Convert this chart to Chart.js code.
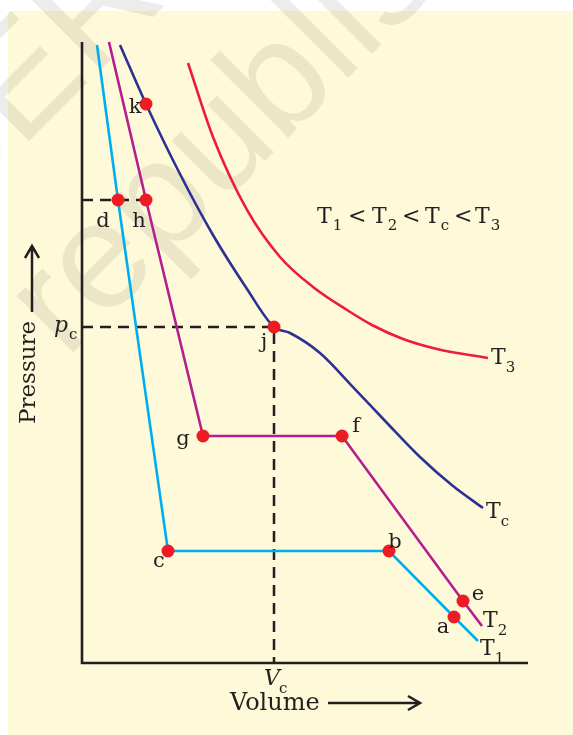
<!DOCTYPE html>
<html>
<head>
<meta charset="utf-8">
<script src="https://cdn.jsdelivr.net/npm/chart.js@4.4.1/dist/chart.umd.min.js"></script>
<style>
html,body{margin:0;padding:0;background:#ffffff;width:573px;height:735px;overflow:hidden;position:relative;}
#bg{position:absolute;left:8px;top:11px;width:565px;height:724px;background:#fef9d8;}
#wrap{position:absolute;left:0;top:0;width:573px;height:735px;}
</style>
</head>
<body>
<div id="bg"></div>
<div id="wrap"><canvas id="c" width="573" height="735"></canvas></div>
<script>
// ---- data (Volume / Pressure, arbitrary units 0..100) ----
const T1_V = [3.36, 8.07, 19.28, 68.83, 83.41, 88.79];
const T1_P = [99.52, 74.56, 18.04, 18.04, 7.41, 3.54];
const T2_V = [6.05, 14.35, 27.13, 58.30, 85.43, 89.69];
const T2_P = [100.0, 74.56, 36.55, 36.55, 9.98, 5.96];
const TC_V = [8.52, 14.35, 21.97, 29.37, 37.00, 43.05, 46.64, 53.36, 60.76, 68.39, 75.78, 83.18, 89.91];
const TC_P = [99.52, 90.02, 78.74, 68.92, 60.23, 54.11, 53.14, 49.92, 44.44, 38.65, 33.17, 28.50, 24.96];
const T3_V = [23.77, 29.37, 37.00, 44.39, 51.79, 59.42, 65.02, 71.97, 79.60, 91.03];
const T3_P = [96.62, 84.70, 72.95, 65.38, 60.55, 56.84, 54.43, 52.17, 50.56, 49.11];
const POINT_NAMES = ['k', 'd', 'h', 'j', 'g', 'f', 'c', 'b', 'e', 'a'];
const POINT_V = [14.35, 8.07, 14.35, 43.05, 27.13, 58.30, 19.28, 68.83, 85.43, 83.41];
const POINT_P = [90.02, 74.56, 74.56, 54.11, 36.55, 36.55, 18.04, 18.04, 9.98, 7.41];
const CURVE_NAMES = ['T', 'T', 'T', 'T'];
const CURVE_SUBS = ['1', '2', 'c', '3'];
const AXIS_V = [0, 0, 100];
const AXIS_P = [100, 0, 0];
const X_LABEL = 'Volume';
const Y_LABEL = 'Pressure';
const PC_LABEL = ['p', 'c'];
const VC_LABEL = ['V', 'c'];
const RELATION_T = [['T', '1'], ['T', '2'], ['T', 'c'], ['T', '3']];
const RELATION_SIGN = '<';
const WATERMARK = ['NCERT', 'republished'];

const zip = (xs, ys) => xs.map((x, i) => ({x: x, y: ys[i]}));
const J = POINT_NAMES.indexOf('j');
const H = POINT_NAMES.indexOf('h');

// ---- styles ----
const INK = '#231f20';
const SERIF = '"DejaVu Serif", "Liberation Serif", serif';
const labelOffsets = {
  k: [-11, 9], d: [-15, 27], h: [-7, 27], j: [-10, 21], g: [-20, 9],
  f: [14, -4], c: [-9, 16], b: [6, -3], e: [15, -1], a: [-11, 16]
};
const curveOffsets = [[2, 14], [1, 1], [3, 10], [3, 6]];
const relTX = [317, 372, 425, 475];
const relSignX = [348, 402, 454];

const watermarkPlugin = {
  id: 'watermark',
  beforeDraw(chart) {
    const ctx = chart.ctx;
    ctx.save();
    ctx.fillStyle = 'rgba(40,40,30,0.09)';
    ctx.font = '152px "Liberation Sans", Arial, sans-serif';
    ctx.textBaseline = 'alphabetic';
    ctx.textAlign = 'left';
    [[-135, 305], [66, 360]].forEach((b, i) => {
      ctx.save();
      ctx.translate(b[0], b[1]);
      ctx.rotate(-Math.PI / 4);
      ctx.fillText(WATERMARK[i], 0, 0);
      ctx.restore();
    });
    ctx.restore();
  }
};

const textPlugin = {
  id: 'texts',
  afterDatasetsDraw(chart) {
    const ctx = chart.ctx;
    const xs = chart.scales.x, ys = chart.scales.y;
    ctx.save();
    ctx.fillStyle = INK;
    ctx.textBaseline = 'alphabetic';
    ctx.font = '21px ' + SERIF;
    ctx.textAlign = 'center';
    POINT_NAMES.forEach((n, i) => {
      const o = labelOffsets[n];
      ctx.fillText(n, xs.getPixelForValue(POINT_V[i]) + o[0], ys.getPixelForValue(POINT_P[i]) + o[1]);
    });
    const ends = [[T1_V, T1_P], [T2_V, T2_P], [TC_V, TC_P], [T3_V, T3_P]];
    ctx.textAlign = 'left';
    ends.forEach((e, i) => {
      const px = xs.getPixelForValue(e[0][e[0].length - 1]) + curveOffsets[i][0];
      const py = ys.getPixelForValue(e[1][e[1].length - 1]) + curveOffsets[i][1];
      ctx.font = '22px ' + SERIF;
      ctx.fillText(CURVE_NAMES[i], px, py);
      const w = ctx.measureText(CURVE_NAMES[i]).width;
      ctx.font = '15px ' + SERIF;
      ctx.fillText(CURVE_SUBS[i], px + w, py + 8);
    });
    // relation text
    RELATION_T.forEach((r, i) => {
      ctx.font = '22px ' + SERIF;
      ctx.fillText(r[0], relTX[i], 223);
      const w = ctx.measureText(r[0]).width;
      ctx.font = '15px ' + SERIF;
      ctx.fillText(r[1], relTX[i] + w + 1, 230);
    });
    ctx.font = '22px ' + SERIF;
    relSignX.forEach((x) => ctx.fillText(RELATION_SIGN, x, 223));
    // p_c
    const pcY = ys.getPixelForValue(POINT_P[J]);
    ctx.font = 'italic 22px ' + SERIF;
    ctx.fillText(PC_LABEL[0], 54, pcY + 5);
    ctx.font = '15px ' + SERIF;
    ctx.fillText(PC_LABEL[1], 69, pcY + 12);
    // V_c
    const vcX = xs.getPixelForValue(POINT_V[J]);
    ctx.font = 'italic 22px ' + SERIF;
    ctx.fillText(VC_LABEL[0], vcX - 10, 685);
    ctx.font = '15px ' + SERIF;
    ctx.fillText(VC_LABEL[1], vcX + 5, 693);
    // Volume label + arrow
    ctx.font = '24px ' + SERIF;
    ctx.fillText(X_LABEL, 230, 710);
    ctx.strokeStyle = INK;
    ctx.lineWidth = 2.5;
    ctx.beginPath();
    ctx.moveTo(328, 703); ctx.lineTo(420, 703);
    ctx.moveTo(408, 696); ctx.lineTo(420, 703); ctx.lineTo(408, 710);
    ctx.stroke();
    // Pressure label + arrow
    ctx.save();
    ctx.translate(35, 424);
    ctx.rotate(-Math.PI / 2);
    ctx.font = '23px ' + SERIF;
    ctx.fillText(Y_LABEL, 0, 0);
    ctx.restore();
    ctx.beginPath();
    ctx.moveTo(32, 312); ctx.lineTo(32, 246);
    ctx.moveTo(25, 258); ctx.lineTo(32, 246); ctx.lineTo(39, 258);
    ctx.stroke();
    ctx.restore();
  }
};

const lineDs = (v, p, color, smooth) => ({
  data: zip(v, p), showLine: true, borderColor: color, borderWidth: 2.6,
  pointRadius: 0, fill: false, clip: false,
  tension: smooth ? 0.4 : 0, cubicInterpolationMode: smooth ? 'monotone' : 'default'
});

new Chart(document.getElementById('c'), {
  type: 'scatter',
  data: {
    datasets: [
      { data: zip(POINT_V, POINT_P), pointRadius: 6.5, pointBackgroundColor: '#ed1c24',
        pointBorderWidth: 0, showLine: false, clip: false },
      lineDs(T1_V, T1_P, '#00aeef', false),
      lineDs(T2_V, T2_P, '#b41e8e', false),
      lineDs(TC_V, TC_P, '#2e3192', true),
      lineDs(T3_V, T3_P, '#ec1c3a', true),
      { data: [{x: 0, y: POINT_P[J]}, {x: POINT_V[J], y: POINT_P[J]}, {x: POINT_V[J], y: 0}],
        showLine: true, borderColor: INK, borderWidth: 2.5, borderDash: [11, 7], pointRadius: 0, clip: false },
      { data: [{x: 0, y: POINT_P[H]}, {x: POINT_V[H], y: POINT_P[H]}],
        showLine: true, borderColor: INK, borderWidth: 2.5, borderDash: [11, 7], pointRadius: 0, clip: false },
      { data: zip(AXIS_V, AXIS_P), showLine: true, borderColor: INK, borderWidth: 2.6,
        pointRadius: 0, clip: false }
    ]
  },
  options: {
    responsive: false,
    animation: false,
    events: [],
    layout: { padding: { left: 82, right: 45, top: 42, bottom: 72 } },
    plugins: { legend: { display: false }, tooltip: { enabled: false } },
    scales: {
      x: { type: 'linear', min: 0, max: 100, display: false },
      y: { type: 'linear', min: 0, max: 100, display: false }
    }
  },
  plugins: [watermarkPlugin, textPlugin]
});
</script>
</body>
</html>
